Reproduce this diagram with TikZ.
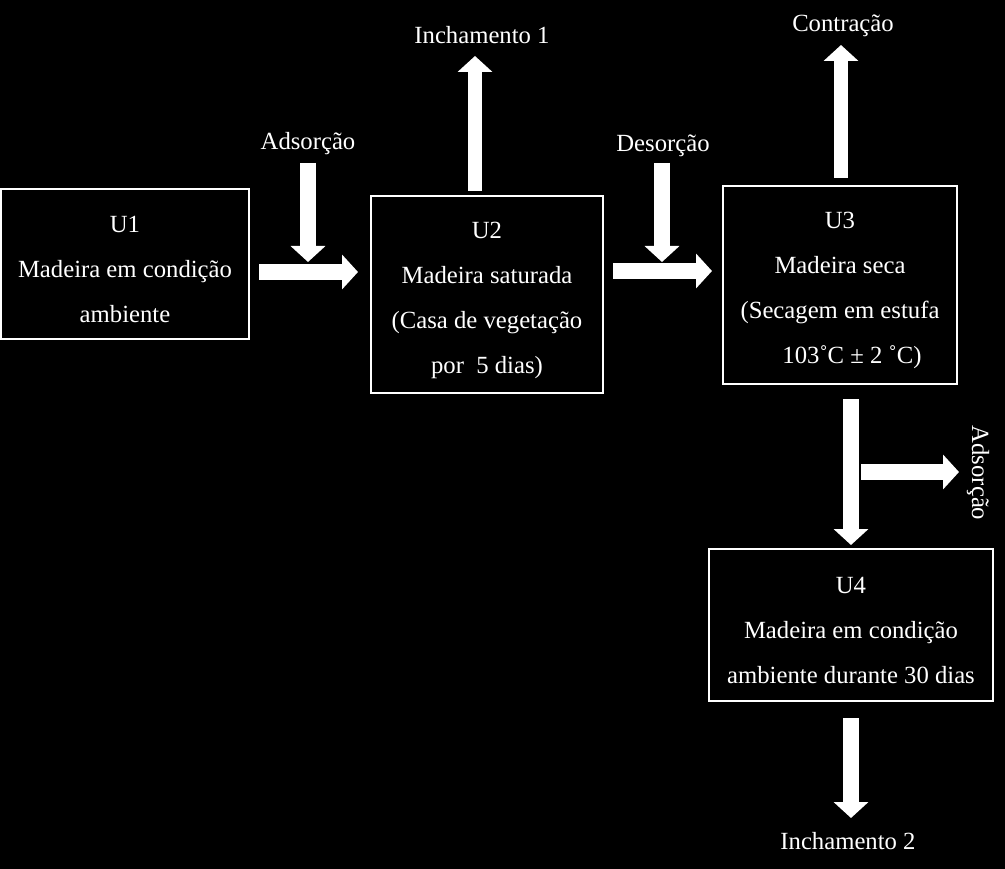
\documentclass[tikz,border=0pt]{standalone}
\usepackage{fontspec}
\setmainfont{Liberation Serif}
\usetikzlibrary{arrows.meta,positioning}

\newcommand{\topstrut}{\rule{0pt}{28pt}}

\begin{document}
\begin{tikzpicture}[
    x=1pt, y=-1pt,
    font=\fontsize{24.7}{45}\selectfont,
    box/.style={draw=white, line width=2pt, text=white, align=center, inner sep=0pt},
    tag/.style={text=white, inner sep=0pt},
    fat/.style={white, line width=16pt, -{Triangle[length=16pt,width=34pt]}}
  ]
  \fill[black] (0,0) rectangle (1005,869);
  \useasboundingbox (0,0) rectangle (1005,869);

  \node[box, minimum width=248pt, minimum height=150pt] (u1) at (125,264) {\topstrut U1\\Madeira em condição\\ambiente};
  \node[box, minimum width=232pt, minimum height=197pt] (u2) at (487,294.5) {\topstrut U2\\Madeira saturada\\(Casa de vegetação\\por\ \ 5 dias)};
  \node[box, minimum width=234pt, minimum height=198pt] (u3) at (840,285) {\topstrut U3\\Madeira seca\\(Secagem em estufa\\\hspace*{24pt}103˚C ± 2 ˚C)};
  \node[box, minimum width=284pt, minimum height=152pt] (u4) at (851,625) {\topstrut U4\\Madeira em condição\\ambiente durante 30 dias};

  \node[tag] (ads1) at (308,144) {Adsorção};
  \node[tag] (inch1) at (482,35) {Inchamento 1};
  \node[tag] (desor) at (663,146) {Desorção};
  \node[tag] (contr) at (843,26) {Contração};
  \node[tag, rotate=-90] (ads2) at (978,473) {Adsorção};
  \node[tag] (inch2) at (848,841) {Inchamento 2};

  % pontas livres das setas
  \coordinate (a1s) at (308,163);  \coordinate (a1e) at (308,262);
  \coordinate (h1s) at (259,272);  \coordinate (h1e) at (358,272);
  \coordinate (i1s) at (475,191);  \coordinate (i1e) at (475,56);
  \coordinate (d2s) at (662,163);  \coordinate (d2e) at (662,262);
  \coordinate (h2s) at (613,271);  \coordinate (h2e) at (712,271);
  \coordinate (c3s) at (841,178);  \coordinate (c3e) at (841,45);
  \coordinate (v3s) at (851,399);  \coordinate (v3e) at (851,545);
  \coordinate (s3s) at (861,472);  \coordinate (s3e) at (959,472);
  \coordinate (i2s) at (851,718);  \coordinate (i2e) at (851,818);

  \draw[fat] (a1s) -- (a1e);
  \draw[fat] (h1s) -- (h1e);
  \draw[fat, line width=14pt] (i1s) -- (i1e);
  \draw[fat] (d2s) -- (d2e);
  \draw[fat] (h2s) -- (h2e);
  \draw[fat, line width=14pt] (c3s) -- (c3e);
  \draw[fat] (v3s) -- (v3e);
  \draw[fat] (s3s) -- (s3e);
  \draw[fat] (i2s) -- (i2e);
\end{tikzpicture}
\end{document}
